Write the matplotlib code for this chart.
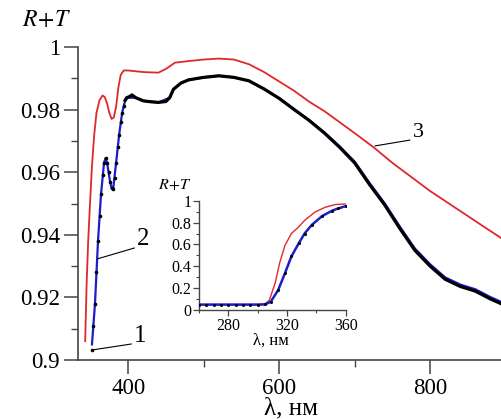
import numpy as np
import matplotlib
matplotlib.use("Agg")
import matplotlib.pyplot as plt
from matplotlib.ticker import MultipleLocator

plt.rcParams["font.family"] = "serif"
plt.rcParams["font.serif"] = ["Liberation Serif", "DejaVu Serif"]
plt.rcParams["mathtext.fontset"] = "stix"

# curve 1 (black, measured points)
wl1 = np.array([352, 354, 356, 358, 360, 362, 364, 366, 368, 370, 372, 374, 376, 378,
                380, 382, 384, 386, 388, 390, 392, 394, 396, 398,
                402, 405, 410, 420, 430, 440, 450, 455, 460, 470, 480, 500, 520, 540,
                560, 580, 600, 620, 640, 660, 680, 700, 720, 740, 760, 780, 800, 820,
                840, 860, 880, 894])
r1 = np.array([0.9032, 0.911, 0.918, 0.928, 0.938, 0.946, 0.953, 0.959, 0.963, 0.9645,
               0.963, 0.960, 0.957, 0.9548, 0.9545, 0.958, 0.963, 0.968, 0.972, 0.976,
               0.979, 0.981, 0.983, 0.9838,
               0.9842, 0.9847, 0.9838, 0.9828, 0.9825, 0.9823, 0.9826, 0.9838, 0.9865,
               0.9885, 0.9895, 0.9903, 0.9908, 0.9903, 0.9892, 0.9866, 0.9836, 0.980,
               0.9765, 0.9725, 0.968, 0.963, 0.956, 0.9495, 0.942, 0.935, 0.930, 0.9258,
               0.9235, 0.922, 0.9195, 0.918])

# curve 2 (blue, calculated)
wl2 = np.array([352, 356, 360, 364, 368, 370, 372, 374, 376, 378, 380, 384, 388, 392,
                396, 400, 410, 420, 440, 455, 460, 470, 480, 500, 520, 540, 560, 580,
                600, 620, 640, 660, 680, 700, 720, 740, 760, 780, 800, 820, 840, 860,
                880, 894])
r2 = np.array([0.905, 0.918, 0.938, 0.953, 0.963, 0.9645, 0.963, 0.960, 0.957, 0.9548,
               0.9545, 0.963, 0.972, 0.979, 0.983, 0.9838, 0.9838, 0.9828, 0.9823,
               0.9838, 0.9865, 0.9885, 0.9895, 0.9903, 0.9908, 0.9903, 0.9892, 0.9866,
               0.9836, 0.9801, 0.9766, 0.9727, 0.9683, 0.9634, 0.9565, 0.950, 0.9426,
               0.9356, 0.9306, 0.9264, 0.9241, 0.9226, 0.9201, 0.9186])

# curve 3 (red)
wl3 = np.array([343, 345, 347, 349, 352, 355, 358, 362, 366, 369, 372, 375, 378, 381,
                384, 387, 390, 394, 400, 420, 440, 450, 462, 480, 500, 520, 540, 560,
                580, 600, 620, 640, 660, 680, 700, 725, 750, 775, 800, 825, 850, 875, 894])
r3 = np.array([0.906, 0.925, 0.938, 0.948, 0.962, 0.972, 0.979, 0.983, 0.9845, 0.984,
               0.982, 0.979, 0.977, 0.9775, 0.981, 0.987, 0.991, 0.9925, 0.9925, 0.992,
               0.9918, 0.993, 0.995, 0.9955, 0.996, 0.9963, 0.996, 0.9945, 0.992, 0.989,
               0.986, 0.9825, 0.9795, 0.976, 0.9725, 0.968, 0.963, 0.9585, 0.954, 0.950,
               0.946, 0.942, 0.939])

# inset data
wl_in2 = np.array([260, 265, 270, 275, 280, 285, 290, 295, 300, 305, 309, 314, 318.6,
                   323, 328, 332, 337, 344, 351, 355, 360])
r_in2 = np.array([0.05, 0.05, 0.05, 0.05, 0.05, 0.05, 0.05, 0.05, 0.05, 0.052, 0.076,
                  0.183, 0.336, 0.49, 0.61, 0.70, 0.78, 0.86, 0.91, 0.93, 0.95])
wl_in3 = np.array([260, 300, 305, 308, 312, 315, 318.6, 323, 328, 332, 339, 346, 353, 360])
r_in3 = np.array([0.05, 0.05, 0.055, 0.09, 0.25, 0.43, 0.59, 0.70, 0.76, 0.82, 0.895,
                  0.94, 0.965, 0.97])

red = "#e0282a"
blue = "#1c1ccc"

fig = plt.figure(figsize=(5.01, 4.19), dpi=100)
ax = fig.add_axes([0.1557, 0.1408, 0.8443, 0.747])

ax.plot(wl3, r3, color=red, lw=1.3, zorder=3)
ax.plot(wl2, r2, color=blue, lw=1.6, zorder=3)
m = wl1 >= 396
ax.plot(wl1[m], r1[m], color="black", lw=2.3, zorder=4)
ax.plot(wl1[~m], r1[~m], ls="none", marker="o", ms=1.6, color="black", zorder=5)

ax.set_xlim(333.5, 894)
ax.set_ylim(0.9, 1.0)
ax.xaxis.set_major_locator(MultipleLocator(200))
ax.xaxis.set_minor_locator(MultipleLocator(100))
ax.yaxis.set_major_locator(MultipleLocator(0.02))
ax.yaxis.set_minor_locator(MultipleLocator(0.01))
ax.yaxis.set_major_formatter(plt.FuncFormatter(lambda v, p: f"{v:.2f}".rstrip("0").rstrip(".")))
for s in ["top", "right"]:
    ax.spines[s].set_visible(False)
for s in ["left", "bottom"]:
    ax.spines[s].set_color("#444444")
    ax.spines[s].set_linewidth(1.2)
ax.tick_params(which="major", length=10, width=1.1, color="#444444", labelsize=16.5, pad=3)
ax.tick_params(which="minor", length=5, width=1.0, color="#444444")

fig.text(0.092, 0.95, "$R\\!+\\!T$", fontsize=17, ha="center", va="center")
fig.text(0.581, 0.024, "λ, нм", fontsize=18, ha="center", va="center")

lead = dict(arrowstyle="-", color="black", lw=0.8, shrinkA=0, shrinkB=0)
ax.annotate("1", xy=(wl1[0], r1[0]), xytext=(408, 0.9042), fontsize=18,
            va="bottom", ha="left", arrowprops=dict(lead, relpos=(0, 0.15)))
ax.annotate("2", xy=(359, 0.9323), xytext=(412, 0.935), fontsize=18,
            va="bottom", ha="left", arrowprops=dict(lead, relpos=(0, 0.15)))
ax.annotate("3", xy=(727, 0.9684), xytext=(777, 0.9695), fontsize=16,
            va="bottom", ha="left", arrowprops=dict(lead, relpos=(0, 0.15)))

# inset
ins = fig.add_axes([0.397, 0.26, 0.293, 0.261])
ins.plot(wl_in3, r_in3, color=red, lw=1.0, zorder=3)
ins.plot(wl_in2, r_in2, color=blue, lw=1.8, zorder=3)
ins.plot(wl_in2, r_in2, ls="none", marker="o", ms=1.2, color="black", zorder=4)
ins.set_xlim(260, 360)
ins.set_ylim(0, 1)
ins.set_xticks([280, 320, 360])
ins.xaxis.set_minor_locator(MultipleLocator(20))
ins.yaxis.set_major_locator(MultipleLocator(0.2))
ins.yaxis.set_minor_locator(MultipleLocator(0.1))
ins.yaxis.set_major_formatter(plt.FuncFormatter(lambda v, p: f"{v:.1f}".rstrip("0").rstrip(".") if v > 0 else "0"))
ins.patch.set_alpha(0)
for s in ["top", "right"]:
    ins.spines[s].set_visible(False)
for s in ["left", "bottom"]:
    ins.spines[s].set_color("#444444")
    ins.spines[s].set_linewidth(1.0)
ins.tick_params(which="major", length=4, width=0.9, color="#444444", labelsize=11.5, pad=1.5)
ins.tick_params(which="minor", length=2.5, width=0.8, color="#444444")
fig.text(0.349, 0.558, "$R\\!+\\!T$", fontsize=11.5, ha="center", va="center")
fig.text(0.541, 0.188, "λ, нм", fontsize=12, ha="center", va="center")

fig.savefig("out.png", dpi=100)
